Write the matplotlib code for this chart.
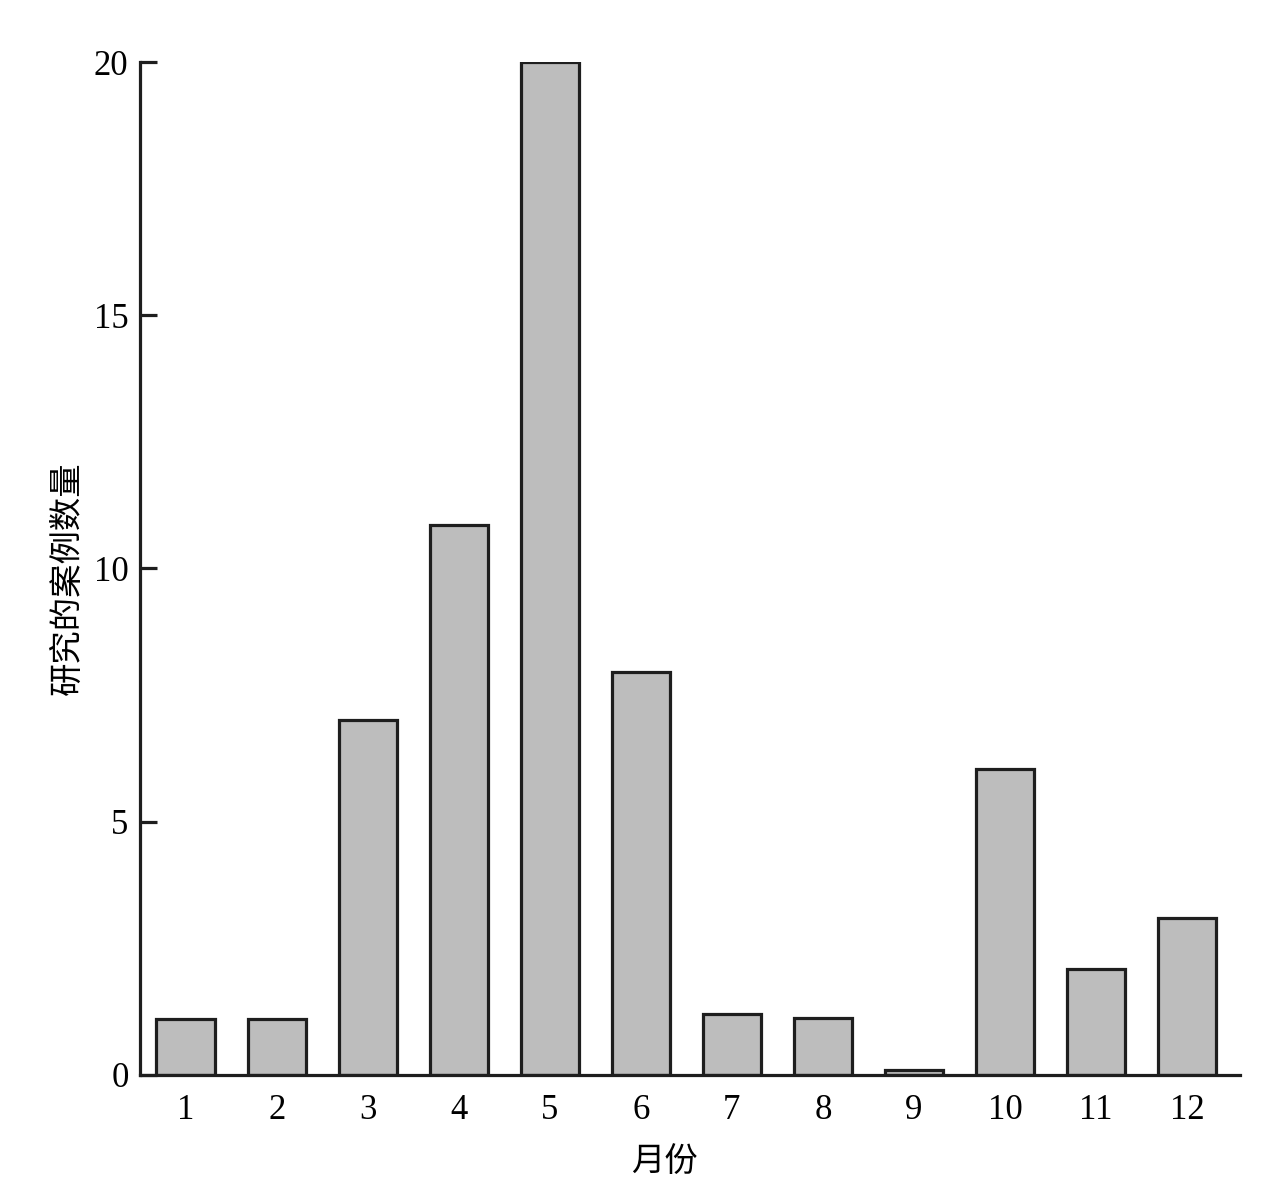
import matplotlib.pyplot as plt

months = [str(m) for m in range(1, 13)]
counts = [1.1, 1.1, 7.0, 10.85, 20.0, 7.95, 1.2, 1.13, 0.1, 6.05, 2.1, 3.1]
y_ticks = [0, 5, 10, 15, 20]

plt.rcParams["font.family"] = ["Liberation Serif", "Noto Sans CJK SC"]

fig = plt.figure(figsize=(12.81, 11.93), dpi=100)
ax = fig.add_axes([0.109, 0.099, 0.859, 0.849])

x = list(range(1, len(months) + 1))
ax.bar(x, counts, width=0.64, color="#bdbdbd", edgecolor="#1e1e1e", linewidth=2.3)

ax.set_xlim(0.495, 12.58)
ax.set_ylim(0, 20)
ax.set_xticks(x)
ax.set_xticklabels(months)
ax.set_yticks(y_ticks)

for side in ["top", "right"]:
    ax.spines[side].set_visible(False)
for side in ["left", "bottom"]:
    ax.spines[side].set_linewidth(2.3)
    ax.spines[side].set_color("#1e1e1e")

ax.tick_params(axis="y", direction="in", length=12, width=2.3, labelsize=25, pad=8, color="#1e1e1e")
ax.tick_params(axis="x", length=0, labelsize=25, pad=14)

ax.set_xlabel("月份", fontsize=24, family=["Noto Sans CJK SC"])
ax.set_ylabel("研究的案例数量", fontsize=24, family=["Noto Sans CJK SC"])
ax.xaxis.set_label_coords(0.477, -0.068)
ax.yaxis.set_label_coords(-0.05, 0.49)

fig.savefig("out.png", dpi=100)
